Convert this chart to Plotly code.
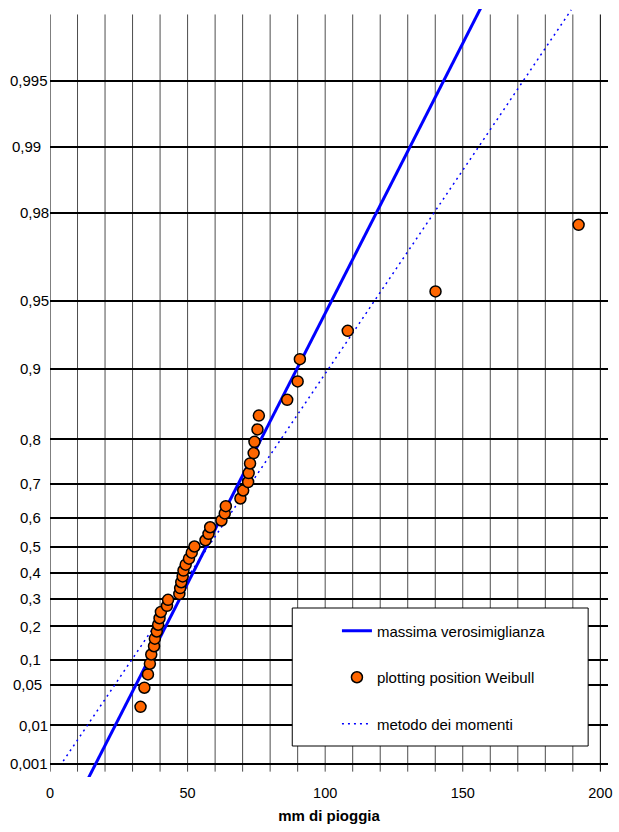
import numpy as np
import plotly.graph_objects as go

# Annual maximum rainfall (mm), sorted ascending
rain_mm = [32.9, 34.3, 35.6, 36.3, 36.8, 37.8, 38.1, 38.8, 39.3, 39.8,
           40.3, 42.5, 42.9, 47.0, 47.3, 47.7, 48.2, 48.5, 49.3, 50.5,
           51.5, 52.5, 56.5, 57.6, 58.2, 62.3, 63.5, 63.9, 69.2, 70.2,
           72.0, 72.2, 72.7, 74.0, 74.3, 75.4, 75.9, 86.2, 90.0, 90.8,
           108.2, 140.1, 192.1]

# Fitted Gumbel lines, given by end points (mm, non-exceedance probability)
ml_mm = [11.6, 171.2]
ml_F = [0.0001, 0.999]
mom_mm = [4.8, 189.4]
mom_F = [0.0012, 0.99764]

# Probability axis ticks and labels
prob_ticks = [0.001, 0.01, 0.05, 0.1, 0.2, 0.3, 0.4, 0.5, 0.6, 0.7, 0.8,
              0.9, 0.95, 0.98, 0.99, 0.995]
prob_labels = ["0,001", "0,01", "0,05", "0,1", "0,2", "0,3", "0,4", "0,5",
               "0,6", "0,7", "0,8", "0,9", "0,95", "0,98", "0,99", "0,995"]
# left edge (px) of each probability label
prob_label_left = [10, 19, 13, 20, 20, 20, 20, 20, 20, 20, 20, 20, 20, 20, 12, 10]

mm_ticks = [0, 50, 100, 150, 200]
mm_labels = ["0", "50", "100", "150", "200"]


def gumbel(F):
    """Gumbel reduced variate of a non-exceedance probability."""
    F = np.asarray(F, dtype=float)
    return -np.log(-np.log(F))


n = len(rain_mm)
rank = np.arange(1, n + 1)
weibull_F = rank / (n + 1)

FONT = "Liberation Sans, Arial, sans-serif"

# plot area geometry (px)
L, R, T, B = 50, 7, 9, 55
W, H = 619, 832
plot_w = W - L - R
plot_h = H - T - B

x_range = [0, 202.78]
y_range = [-2.074, 6.058]
px_per_y = plot_h / (y_range[1] - y_range[0])

y_axis_base = float(gumbel(0.001))
y_grid_top = 6.0
tick_len_y = 8 / px_per_y

fig = go.Figure()

fig.add_trace(go.Scatter(
    x=ml_mm, y=gumbel(ml_F), mode="lines",
    line=dict(color="#0000FF", width=3),
    name="massima verosimiglianza", legendgroup="ml", legendrank=1,
))
fig.add_trace(go.Scatter(
    x=mom_mm, y=gumbel(mom_F), mode="lines",
    line=dict(color="#0000FF", width=1.5, dash="2px,4px"),
    name="metodo dei momenti", legendgroup="mom", legendrank=3,
))
fig.add_trace(go.Scatter(
    x=rain_mm, y=gumbel(weibull_F), mode="markers",
    marker=dict(color="#FF6600", size=11, line=dict(color="black", width=1.5)),
    name="plotting position Weibull", legendgroup="wb", legendrank=2,
))

shapes = []
# vertical grid lines with their tick marks below the base line
for v in range(0, 201, 10):
    col = "black" if v in (0, 200) else "#4d4d4d"
    shapes.append(dict(type="line", xref="x", yref="y", x0=v, x1=v,
                       y0=y_axis_base - tick_len_y, y1=y_grid_top,
                       line=dict(color=col, width=1), layer="below"))


def px_to_paper_x(px):
    return (px - L) / plot_w


def px_to_paper_y(py):
    return (H - B - py) / plot_h


# legend frame
shapes.append(dict(type="rect", xref="paper", yref="paper",
                   x0=px_to_paper_x(294), x1=px_to_paper_x(592),
                   y0=px_to_paper_y(746), y1=px_to_paper_y(608),
                   fillcolor="white", line=dict(color="black", width=1),
                   layer="above"))

annotations = []
for F, lab, left in zip(prob_ticks, prob_labels, prob_label_left):
    annotations.append(dict(
        x=px_to_paper_x(left - 2), xref="paper", xanchor="left",
        y=float(gumbel(F)), yref="y", yanchor="middle",
        text=lab, showarrow=False,
        font=dict(family=FONT, size=15, color="black"),
    ))

fig.update_layout(
    width=W, height=H,
    margin=dict(l=L, r=R, t=T, b=B, pad=0),
    paper_bgcolor="white", plot_bgcolor="white",
    font=dict(family=FONT, color="black"),
    showlegend=True,
    legend=dict(
        x=px_to_paper_x(339), xanchor="left",
        y=px_to_paper_y(614.5), yanchor="top",
        bgcolor="rgba(0,0,0,0)", borderwidth=0,
        font=dict(family=FONT, size=15, color="black"),
        traceorder="grouped", tracegroupgap=24,
    ),
    shapes=shapes,
    annotations=annotations,
)

fig.update_xaxes(
    range=x_range, tickvals=mm_ticks, ticktext=mm_labels,
    showgrid=False, zeroline=False, showline=False,
    ticks="outside", ticklen=3, tickcolor="rgba(0,0,0,0)",
    tickfont=dict(family=FONT, size=14.5, color="black"),
    title=dict(text="<b>mm di pioggia</b>", standoff=10,
               font=dict(family=FONT, size=15, color="black")),
)
fig.update_yaxes(
    range=y_range, tickvals=list(gumbel(prob_ticks)),
    showticklabels=False, ticks="",
    showgrid=True, gridcolor="black", gridwidth=2,
    zeroline=False, showline=False,
)

fig.write_html("out.html")
